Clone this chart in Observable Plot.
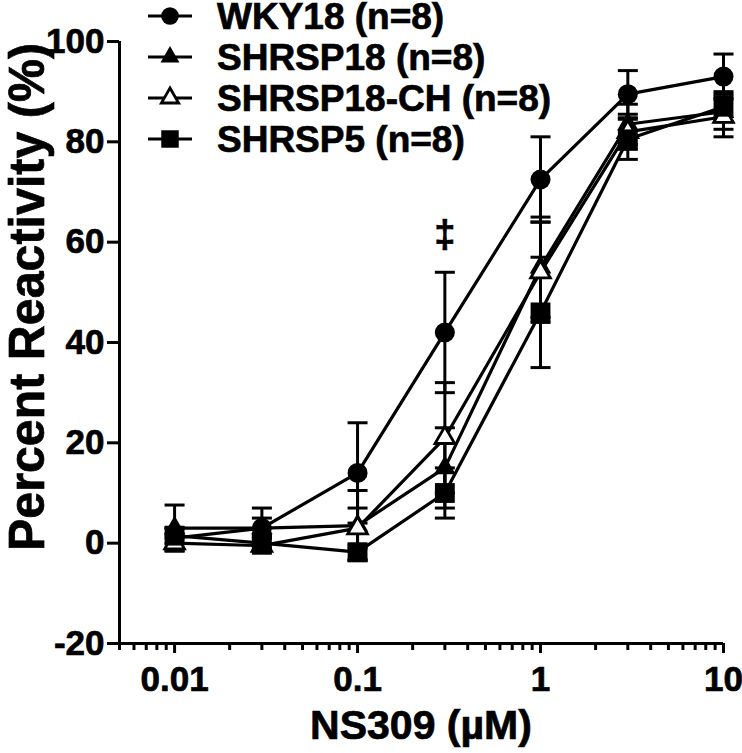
<!DOCTYPE html>
<html>
<head>
<meta charset="utf-8">
<script src="https://cdn.jsdelivr.net/npm/d3@7"></script>
<script src="https://cdn.jsdelivr.net/npm/@observablehq/plot@0.6"></script>
<style>
  html, body { margin: 0; padding: 0; background: #fff; }
  #chart { position: relative; width: 742px; height: 753px; }
  #chart svg text { stroke: black; stroke-width: 0.7px; }
</style>
</head>
<body>
<div id="chart"></div>
<script>
// ---- data ----
const doses = [0.01, 0.03, 0.1, 0.3, 1, 3, 10];
const seriesNames = ["WKY18 (n=8)", "SHRSP18 (n=8)", "SHRSP18-CH (n=8)", "SHRSP5 (n=8)"];
const wky18Mean     = [1, 3, 14, 42, 72.5, 89.5, 93];
const wky18Err      = [2, 2, 10, 12, 8.5, 4.7, 4.5];
const shrsp18Mean   = [3, 3, 3.5, 15, 55, 83.5, 86];
const shrsp18Err    = [4.6, 4, 7, 8, 10, 4, 3.5];
const shrsp18chMean = [0, -0.5, 3, 21, 54, 82, 85];
const shrsp18chErr  = [1.5, 1.5, 4, 11, 10, 3.5, 4];
const shrsp5Mean    = [1.5, 0, -1.8, 10, 46, 80.5, 87];
const shrsp5Err     = [1.5, 1.5, 1.5, 5, 11, 4, 3];
const annotations   = [{dose: 0.3, value: 61.5, label: "\u2021"}];
const yTicks = [-20, 0, 20, 40, 60, 80, 100];
const yTickLabels = ["-20", "0", "20", "40", "60", "80", "100"];
const xTicks = [0.01, 0.1, 1, 10];
const xTickLabels = ["0.01", "0.1", "1", "10"];
const xDomain = [0.005, 10];
const yDomain = [-20, 100];
const xTitle = "NS309 (\u00b5M)";
const yTitle = "Percent Reactivity (%)";

// minor log ticks (2..9 within each decade inside the domain)
const minorTicks = [];
for (let e = -3; e <= 0; e++) for (let m = 2; m <= 9; m++) {
  const v = m * Math.pow(10, e);
  if (v >= xDomain[0] && v <= xDomain[1]) minorTicks.push(v);
}

const means = [wky18Mean, shrsp18Mean, shrsp18chMean, shrsp5Mean];
const errs = [wky18Err, shrsp18Err, shrsp18chErr, shrsp5Err];
const styles = [
  {symbol: "circle", r: 10, fill: "black", stroke: "black", sw: 0},
  {symbol: "triangle", r: 8, fill: "black", stroke: "black", sw: 0},
  {symbol: "triangle", r: 7.3, fill: "white", stroke: "black", sw: 2.8},
  {symbol: "square", r: 11.2, fill: "black", stroke: "black", sw: 0}
];

const rows = seriesNames.map((name, i) => doses.map((d, j) => ({
  series: name, dose: d, mean: means[i][j], err: errs[i][j]
})));

const capSymbol = {
  draw(ctx, size) {
    const h = Math.sqrt(size / Math.PI);
    ctx.moveTo(-h, 0); ctx.lineTo(h, 0);
  }
};

const font = "'Liberation Sans', Arial, sans-serif";
const marks = [
  Plot.ruleX([xDomain[0]], {stroke: "black", strokeWidth: 3}),
  Plot.ruleY([yDomain[0]], {stroke: "black", strokeWidth: 3}),
  Plot.axisY({ticks: yTicks, tickFormat: d => yTickLabels[yTicks.indexOf(d)], tickSize: 12, tickPadding: 3,
    fontSize: 35, strokeWidth: 3, label: null, fill: "black", stroke: "black"}),
  Plot.axisX({ticks: xTicks, tickFormat: d => xTickLabels[xTicks.indexOf(d)], tickSize: 10, tickPadding: 13,
    fontSize: 35, strokeWidth: 3, label: null, fill: "black", stroke: "black"}),
  Plot.axisX({ticks: minorTicks, tickFormat: () => "", tickSize: 7, strokeWidth: 3, label: null, stroke: "black"})
];

rows.forEach((data, i) => {
  marks.push(
    Plot.ruleX(data, {x: "dose", y1: d => d.mean - d.err, y2: d => d.mean + d.err, stroke: "black", strokeWidth: 3}),
    Plot.dot(data, {x: "dose", y: d => d.mean + d.err, symbol: capSymbol, r: 10, stroke: "black", strokeWidth: 3}),
    Plot.dot(data, {x: "dose", y: d => d.mean - d.err, symbol: capSymbol, r: 10, stroke: "black", strokeWidth: 3}),
    Plot.line(data, {x: "dose", y: "mean", stroke: "black", strokeWidth: 3.2})
  );
});
rows.forEach((data, i) => {
  const s = styles[i];
  marks.push(Plot.dot(data, {x: "dose", y: "mean", symbol: s.symbol, r: s.r, fill: s.fill,
    stroke: s.stroke, strokeWidth: s.sw}));
});
marks.push(Plot.text(annotations, {x: "dose", y: "value", text: "label", fontSize: 38, fontWeight: "bold", fill: "black"}));

const svg = Plot.plot({
  width: 742, height: 753,
  marginLeft: 119, marginRight: 19, marginTop: 41, marginBottom: 110,
  x: {type: "log", domain: xDomain},
  y: {domain: yDomain},
  style: {fontFamily: font, fontWeight: "bold", background: "white", color: "black", overflow: "visible"},
  marks
});

const sel = d3.select(svg);
// axis titles
sel.append("text")
  .attr("transform", "translate(44,297) rotate(-90)")
  .attr("text-anchor", "middle")
  .attr("font-family", font).attr("font-weight", "bold").attr("font-size", 50)
  .attr("textLength", 508).attr("lengthAdjust", "spacingAndGlyphs")
  .attr("fill", "black")
  .text(yTitle);
sel.append("text")
  .attr("x", 421).attr("y", 739)
  .attr("text-anchor", "middle")
  .attr("font-family", font).attr("font-weight", "bold").attr("font-size", 41)
  .attr("fill", "black")
  .text(xTitle);

// legend
const legendY = [16, 57, 98, 139];
const lg = sel.append("g").attr("class", "legend");
seriesNames.forEach((name, i) => {
  const s = styles[i];
  const g = lg.append("g").attr("transform", `translate(0,${legendY[i]})`);
  g.append("line").attr("x1", 148).attr("x2", 192).attr("stroke", "black").attr("stroke-width", 3.2);
  const sym = s.symbol === "circle" ? d3.symbolCircle : s.symbol === "square" ? d3.symbolSquare : d3.symbolTriangle;
  const scale = 0.88;
  g.append("path")
    .attr("transform", "translate(170,0)")
    .attr("d", d3.symbol(sym, Math.PI * (s.r * scale) ** 2)())
    .attr("fill", s.fill).attr("stroke", s.stroke).attr("stroke-width", s.sw);
  g.append("text").attr("x", 217).attr("dy", "0.36em")
    .attr("text-anchor", "start")
    .attr("font-family", font).attr("font-weight", "bold").attr("font-size", 37)
    .attr("fill", "black").text(name);
});

document.getElementById("chart").appendChild(svg);
</script>
</body>
</html>
